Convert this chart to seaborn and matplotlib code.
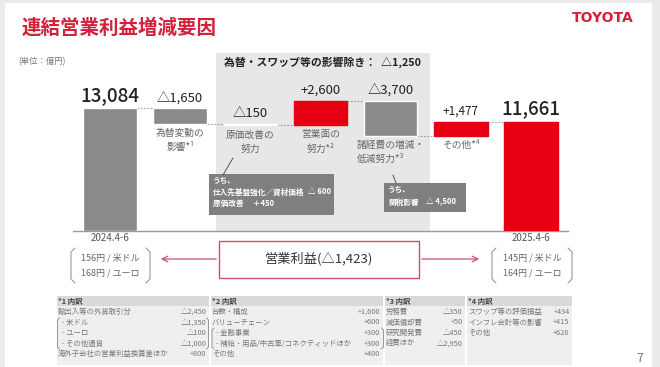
import numpy as np
import matplotlib.pyplot as plt
import seaborn as sns
from matplotlib.patches import Rectangle, FancyArrowPatch
from matplotlib.lines import Line2D

# Waterfall data (億円)
categories = ["2024.4-6", "為替変動の影響", "原価改善の努力", "営業面の努力",
              "諸経費の増減・低減努力", "その他", "2025.4-6"]
start_value = 13084
deltas = [-1650, -150, 2600, -3700, 1477]
end_value = 11661
bar_labels = ["", "為替変動の\n影響*¹", "原価改善の\n努力", "営業面の\n努力*²",
              "諸経費の増減・\n低減努力*³", "その他*⁴", ""]
red_bars = [3, 5, 6]

# exchange rates
rates_prev = ["156円 / 米ドル", "168円 / ユーロ"]
rates_curr = ["145円 / 米ドル", "164円 / ユーロ"]

# footnote tables
note_headers = ["*1 内訳", "*2 内訳", "*3 内訳", "*4 内訳"]
note_items = [
    ["輸出入等の外貨取引分", "- 米ドル", "- ユーロ", "- その他通貨", "海外子会社の営業利益換算差ほか"],
    ["台数・構成", "バリューチェーン", "- 金融事業", "- 補給・用品/中古車/コネクティッドほか", "その他"],
    ["労務費", "減価償却費", "研究開発費", "経費ほか"],
    ["スワップ等の評価損益", "インフレ会計等の影響", "その他"],
]
note_values = [
    ["△2,450", "△1,350", "△100", "△1,000", "+800"],
    ["+1,600", "+600", "+300", "+300", "+400"],
    ["△350", "+50", "△450", "△2,950"],
    ["+434", "+415", "+628"],
]

heights = [start_value] + deltas + [end_value]
running = np.cumsum([start_value] + deltas)
bottoms = [0] + list(running[:-1]) + [0]


def fmt(v, total=False):
    if total:
        return f"{v:,}"
    return ("△" if v < 0 else "+") + f"{abs(v):,}"


value_texts = [fmt(start_value, True)] + [fmt(d) for d in deltas] + [fmt(end_value, True)]

W, H = 660, 367
GREY = "#8a8a8a"
RED = "#e60012"
PINK = "#c9506a"

sns.set_style("white")
plt.rcParams["font.family"] = ["Noto Sans CJK JP", "DejaVu Sans"]

fig = plt.figure(figsize=(W / 100, H / 100), dpi=100)
fig.patch.set_facecolor("#ebebeb")


def fx(x):
    return x / W


def fy(y):
    return 1 - y / H


def ftxt(x, y, s, **kw):
    kw.setdefault("va", "center")
    fig.text(fx(x), fy(y), s, **kw)


def bracket(x, y0, y1, side, d=3, color="#999999", lw=0.8):
    s = 1 if side == "left" else -1
    xs = [x + s * d, x, x, x + s * d]
    ys = [y0, y0 + d, y1 - d, y1]
    fig.add_artist(Line2D([fx(v) for v in xs], [fy(v) for v in ys],
                          transform=fig.transFigure, color=color, lw=lw))


# white slide area
fig.add_artist(Rectangle((fx(5), 0), fx(652) - fx(5), fy(3), transform=fig.transFigure,
                         facecolor="white", edgecolor="none", zorder=0))

# title / logo
ftxt(22, 28, "連結営業利益増減要因", fontsize=14, color="#d3203b", ha="left", weight="bold")
ftxt(603, 18, "TOYOTA", fontsize=10, color="#d3203b", ha="center", weight="bold",
     family="DejaVu Sans")
ftxt(18, 62, "(単位：億円)", fontsize=6, color="#777777", ha="left")
ftxt(640, 358, "7", fontsize=9, color="#777777", ha="center")

# waterfall axes
ax = fig.add_axes([fx(73), fy(231), (568 - 73) / W, (231 - 53) / H])
ax.patch.set_alpha(0)
sns.barplot(x=categories, y=heights, bottom=bottoms, order=categories, color=GREY,
            width=0.76, errorbar=None, saturation=1, ax=ax, zorder=3)
for i, p in enumerate(ax.patches):
    if i in red_bars:
        p.set_facecolor(RED)
        p.set_edgecolor(RED)
ax.set_xlim(-0.527, 6.527)
ax.set_ylim(0, 19000)
ax.axvspan(1.51, 4.56, color="#e7e7e7", zorder=0, lw=0)
ax.set_xticks([])
ax.set_yticks([])
ax.set_xlabel("")
ax.set_ylabel("")
for sp in ["top", "left", "right"]:
    ax.spines[sp].set_visible(False)
ax.spines["bottom"].set_color("#9a9a9a")
ax.spines["bottom"].set_linewidth(1)

# connectors
levels = list(running)
for i, lv in enumerate(levels):
    ax.hlines(lv, i + 0.38, i + 1 - 0.38, colors="#999999", linestyles=(0, (1.5, 1.5)),
              lw=0.8, zorder=2)

for i, (h, b) in enumerate(zip(heights, bottoms)):
    top = max(b, b + h)
    low = min(b, b + h)
    total = i in (0, len(heights) - 1)
    ax.annotate(value_texts[i], (i, top), xytext=(0, 2.5 if total else 3), textcoords="offset points",
                ha="center", va="bottom", fontsize=13.5 if total else (8.5 if i == 5 else 9.5),
                color="#222222", weight="medium" if total else "normal")
    if bar_labels[i]:
        ax.annotate(bar_labels[i], (i, low), xytext=(0, -3), textcoords="offset points",
                    ha="center", va="top", fontsize=7, color="#666666",
                    linespacing=1.55, multialignment="left" if i == 4 else "center",
                    annotation_clip=False)

ftxt(110, 238, "2024.4-6", fontsize=7, color="#555555", ha="center")
ftxt(531, 238, "2025.4-6", fontsize=7, color="#555555", ha="center")

# shaded header
ftxt(323, 62, "為替・スワップ等の影響除き：  △1,250", fontsize=7.8, weight="bold",
     color="#222222", ha="center")

# detail boxes
fig.add_artist(Rectangle((fx(209), fy(215)), fx(334) - fx(209), fy(174) - fy(215),
                         transform=fig.transFigure, facecolor="#7f7f7f", edgecolor="none"))
ftxt(213, 181, "うち、", fontsize=5.5, color="white", ha="left", weight="bold")
ftxt(213, 192, "仕入先基盤強化／資材価格", fontsize=5.5, color="white", ha="left", weight="bold")
ftxt(331, 192, "△ 600", fontsize=5.5, color="white", ha="right", weight="bold")
ftxt(213, 203, "原価改善　 ＋450", fontsize=5.5, color="white", ha="left", weight="bold")
fig.add_artist(Line2D([fx(233), fx(223)], [fy(158), fy(175)], transform=fig.transFigure,
                      color="#555555", lw=0.7))

fig.add_artist(Rectangle((fx(384), fy(212)), fx(466) - fx(384), fy(183) - fy(212),
                         transform=fig.transFigure, facecolor="#7f7f7f", edgecolor="none"))
ftxt(388, 190, "うち、", fontsize=5.5, color="white", ha="left", weight="bold")
ftxt(388, 202, "関税影響", fontsize=5.5, color="white", ha="left", weight="bold")
ftxt(456, 202, "△ 4,500", fontsize=5.5, color="white", ha="right", weight="bold")
fig.add_artist(Line2D([fx(393), fx(396)], [fy(175), fy(183)], transform=fig.transFigure,
                      color="#555555", lw=0.7))

# exchange rate brackets
for cx, x0, x1, rates in [(110, 71, 150, rates_prev), (532, 492, 572, rates_curr)]:
    bracket(x0, 248, 283, "left", d=4)
    bracket(x1, 248, 283, "right", d=4)
    ftxt(cx, 258, rates[0], fontsize=6.5, color="#666666", ha="center")
    ftxt(cx, 273, rates[1], fontsize=6.5, color="#666666", ha="center")

# operating profit box and arrows
fig.add_artist(Rectangle((fx(219), fy(278)), fx(419) - fx(219), fy(241) - fy(278),
                         transform=fig.transFigure, facecolor="white", edgecolor=PINK, lw=1))
ftxt(319, 259, "営業利益(" + fmt(end_value - start_value) + ")", fontsize=9.5,
     color="#333333", ha="center")
for xa, xb in [(219, 158), (419, 482)]:
    fig.add_artist(FancyArrowPatch((fx(xa), fy(259)), (fx(xb), fy(259)),
                                   transform=fig.transFigure, arrowstyle="->",
                                   mutation_scale=10, color=PINK, lw=0.9))

# footnote tables
col_x0 = [57, 211, 385, 467]
col_x1 = [209, 383, 465, 572]
row_y = [312, 322.5, 333, 343.5, 354]
for c in range(4):
    x0, x1 = col_x0[c], col_x1[c]
    fig.add_artist(Rectangle((fx(x0), fy(365)), fx(x1) - fx(x0), fy(306) - fy(365),
                             transform=fig.transFigure, facecolor="#efefef", edgecolor="none"))
    fig.add_artist(Rectangle((fx(x0), fy(306)), fx(x1) - fx(x0), fy(296) - fy(306),
                             transform=fig.transFigure, facecolor="#d9d9d9", edgecolor="none"))
    ftxt(x0 + 1, 301, note_headers[c], fontsize=5.3, weight="bold", color="#444444", ha="left")
    for r, (item, val) in enumerate(zip(note_items[c], note_values[c])):
        indent = 4 if item.startswith("- ") else 0
        ftxt(x0 + 1 + indent, row_y[r], item, fontsize=5.3, color="#777777", ha="left")
        ftxt(x1 - 2.5, row_y[r], val, fontsize=5.3, color="#777777", ha="right")

bracket(57.5, 318, 349, "left", d=2, color="#888888", lw=0.6)
bracket(208.5, 318, 349, "right", d=2, color="#888888", lw=0.6)
bracket(212, 328, 349, "left", d=2, color="#888888", lw=0.6)
bracket(383.5, 328, 349, "right", d=2, color="#888888", lw=0.6)

fig.savefig("out.png", dpi=100)
